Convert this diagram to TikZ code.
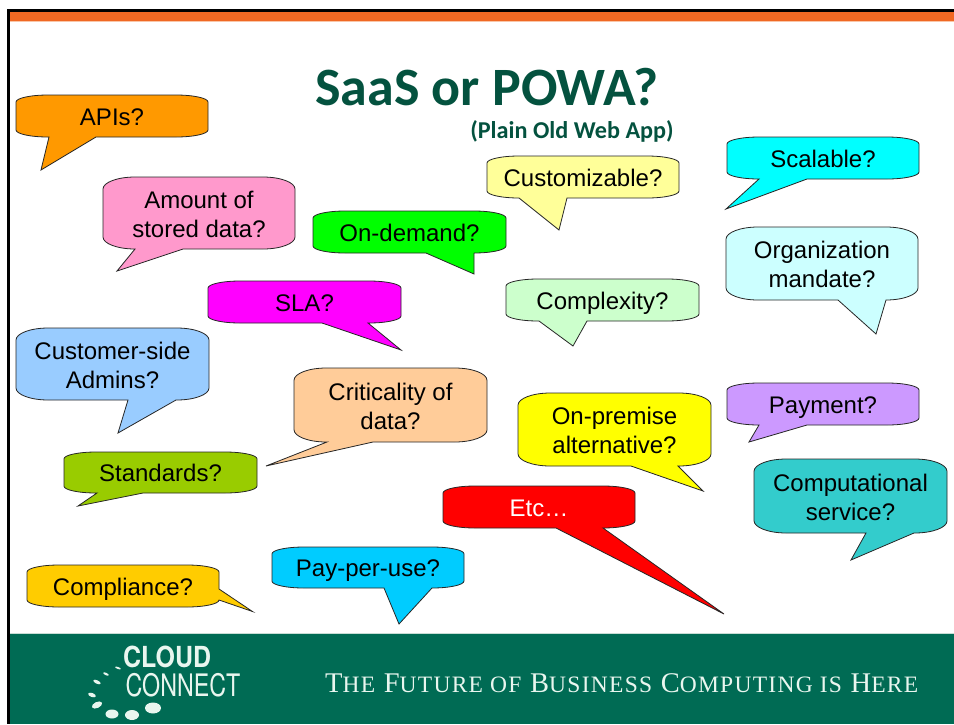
\documentclass[tikz,border=0pt]{standalone}
\usepackage{fontspec}
\setmainfont{Liberation Sans}
\newfontfamily\titlefont{Carlito}
\newfontfamily\footfont[LetterSpace=5.4]{Liberation Serif}
\newfontfamily\logofont{TeX Gyre Heros}
\definecolor{bandgreen}{HTML}{006B54}
\definecolor{titlegreen}{HTML}{04523F}
\definecolor{barorange}{HTML}{F06823}
\definecolor{barfade}{HTML}{F9C6A8}
\definecolor{bandedge}{HTML}{C8DDD5}
\definecolor{pale}{HTML}{E9F6EF}
\definecolor{cApi}{HTML}{FF9900}
\definecolor{cAmount}{HTML}{FF99CC}
\definecolor{cDemand}{HTML}{00FF00}
\definecolor{cSla}{HTML}{FF00FF}
\definecolor{cAdmin}{HTML}{99CCFF}
\definecolor{cStd}{HTML}{99CC00}
\definecolor{cCrit}{HTML}{FFCC99}
\definecolor{cCustom}{HTML}{FFFF99}
\definecolor{cComplex}{HTML}{CCFFCC}
\definecolor{cScale}{HTML}{00FFFF}
\definecolor{cOrg}{HTML}{CCFFFF}
\definecolor{cPay}{HTML}{CC99FF}
\definecolor{cComp}{HTML}{33CCCC}
\definecolor{cPrem}{HTML}{FFFF00}
\definecolor{cEtc}{HTML}{FF0000}
\definecolor{cCompl}{HTML}{FFCC00}
\definecolor{cUse}{HTML}{00CCFF}
\tikzset{
  bubbleshape/.style={draw=black!85,line width=0.8pt,line join=miter},
  bubbletext/.style={align=center,font=\fontsize{24}{29}\selectfont,inner sep=0pt,text=black,
    execute at begin node=\strut,execute at end node=\strut},
  logodot/.style={fill=pale,draw=none},
}
% name, fill, x1, y1, x2, y2, right-side tail, bottom tail, text
\newcommand{\spbubble}[9]{%
  \pgfmathsetmacro{\rx}{(#5-#3)/6}%
  \pgfmathsetmacro{\ry}{(#6-#4)/6}%
  \pgfmathsetmacro{\kx}{0.45*\rx}%
  \pgfmathsetmacro{\ky}{0.45*\ry}%
  \pgfmathsetmacro{\ty}{(#4+#6)/2+3.3+((#6-#4)>50)*2}%
  \draw[bubbleshape,fill=#2]
    ({#3+\rx},#4) -- ({#5-\rx},#4)
    .. controls ({#5-\kx},#4) and (#5,{#4+\ky}) .. (#5,{#4+\ry})
    #7
    .. controls (#5,{#6-\ky}) and ({#5-\kx},#6) .. ({#5-\rx},#6)
    #8
    -- ({#3+\rx},#6)
    .. controls ({#3+\kx},#6) and (#3,{#6-\ky}) .. (#3,{#6-\ry})
    -- (#3,{#4+\ry})
    .. controls (#3,{#4+\ky}) and ({#3+\kx},#4) .. ({#3+\rx},#4) -- cycle;
  \node[bubbletext] (#1) at ({(#3+#5)/2},\ty) {#9};
}
\newcommand{\smc}[1]{{\fontsize{23.5}{23.5}\selectfont #1}}
\begin{document}
\begin{tikzpicture}[x=1pt,y=-1pt]
\useasboundingbox (0,0) rectangle (954,724);
\fill[white] (0,0) rectangle (954,724);
% frame and bars
\fill[black] (7,9) rectangle (954,12);
\fill[black] (7,9) rectangle (10,724);
\fill[barorange] (10,12) rectangle (954,21);
\fill[barfade] (10,21) rectangle (954,22);
\fill[bandedge] (10,633) rectangle (954,634);
\fill[bandgreen] (10,634) rectangle (954,724);
% title
\node[font=\titlefont\bfseries\fontsize{54}{54}\selectfont,text=titlegreen,inner sep=0pt] (title) at (487,87) {SaaS or POWA?};
\node[font=\titlefont\bfseries\fontsize{24.2}{24.2}\selectfont,text=titlegreen,inner sep=0pt] (subtitle) at (572,131) {(Plain Old Web App)};
% bubbles
\spbubble{apis}{cApi}{16}{95}{208}{137}{-- (208,130)}{-- (96,137) -- (41,170) -- (49,137)}{APIs?}
\spbubble{amount}{cAmount}{103}{177}{295}{249}{-- (295,237)}{-- (183,249) -- (117,271) -- (135,249)}{Amount of\\stored data?}
\spbubble{ondemand}{cDemand}{313}{211}{506}{253}{-- (506,246)}{-- (474,253) -- (474,274) -- (426,253)}{On-demand?}
\spbubble{sla}{cSla}{208}{281}{401}{323}{-- (401,316)}{-- (368,323) -- (401,350) -- (322,323)}{SLA?}
\spbubble{admins}{cAdmin}{16}{328}{209}{400}{-- (209,388)}{-- (176,400) -- (118,433) -- (128,400)}{Customer-side\\Admins?}
\spbubble{standards}{cStd}{64}{452}{257}{493}{-- (257,486)}{-- (143,493) -- (78,506) -- (97,493)}{Standards?}
\spbubble{critical}{cCrit}{294}{368}{487}{442}{-- (487,430)}{-- (373,442) -- (266,466) -- (327,442)}{Criticality of\\data?}
\spbubble{custom}{cCustom}{487}{156}{679}{198}{-- (679,191)}{-- (567,198) -- (559,230) -- (519,198)}{Customizable?}
\spbubble{complex}{cComplex}{506}{279}{699}{321}{-- (699,314)}{-- (587,321) -- (573,346) -- (539,321)}{Complexity?}
\spbubble{scalable}{cScale}{727}{137}{919}{179}{-- (919,172)}{-- (807,179) -- (726,209) -- (759,179)}{Scalable?}
\spbubble{org}{cOrg}{726}{227}{918}{300}{-- (918,288)}{-- (886,300) -- (876,334) -- (838,300)}{Organization\\mandate?}
\spbubble{payment}{cPay}{727}{383}{919}{425}{-- (919,418)}{-- (807,425) -- (749,442) -- (759,425)}{Payment?}
\spbubble{computational}{cComp}{754}{459}{947}{533}{-- (947,521)}{-- (914,533) -- (851,560) -- (866,533)}{Computational\\service?}
\spbubble{onpremise}{cPrem}{518}{393}{711}{466}{-- (711,454)}{-- (678,466) -- (703,491) -- (631,466)}{On-premise\\alternative?}
\spbubble{etc}{cEtc}{443}{486}{635}{528}{-- (635,521)}{-- (603,528) -- (724,614) -- (556,528)}{\color{white}Etc…}
\spbubble{compliance}{cCompl}{27}{565}{219}{607}{-- (219,589) -- (252.5,611.5) -- (219,600)}{}{Compliance?}
\spbubble{payperuse}{cUse}{272}{547}{464}{588}{-- (464,581)}{-- (432,588) -- (399,624) -- (384,588)}{Pay-per-use?}
% logo
\node[font=\logofont\bfseries\fontsize{29}{29}\selectfont,text=pale,inner sep=0pt,anchor=west,xscale=0.86] (cloud) at (123,657) {CLOUD};
\node[font=\logofont\fontsize{31}{31}\selectfont,text=pale,inner sep=0pt,anchor=west,xscale=0.75] (connect) at (125.5,685) {CONNECT};
\fill[logodot] (153,708) ellipse [x radius=8,y radius=5.5];
\fill[logodot] (132,715) ellipse [x radius=7,y radius=5];
\fill[logodot] (112,714) ellipse [x radius=6.5,y radius=4.5];
\fill[logodot,rotate around={25:(97,705)}] (97,705) ellipse [x radius=5.5,y radius=3];
\fill[logodot,rotate around={-20:(92,695)}] (92,695) ellipse [x radius=4,y radius=2];
\fill[logodot,rotate around={-25:(97,682)}] (97,682) ellipse [x radius=4,y radius=1.7];
\fill[logodot,rotate around={-25:(106,674)}] (106,674) ellipse [x radius=3,y radius=1.2];
\fill[logodot,rotate around={-20:(118,668)}] (118,668) ellipse [x radius=3,y radius=1];
% tagline
\node[font=\footfont\fontsize{28.5}{28.5}\selectfont,text=pale,inner sep=0pt,anchor=base west] (tagline) at (325,692) {T\smc{HE} F\smc{UTURE OF} B\smc{USINESS} C\smc{OMPUTING IS} H\smc{ERE}};
\end{tikzpicture}
\end{document}
